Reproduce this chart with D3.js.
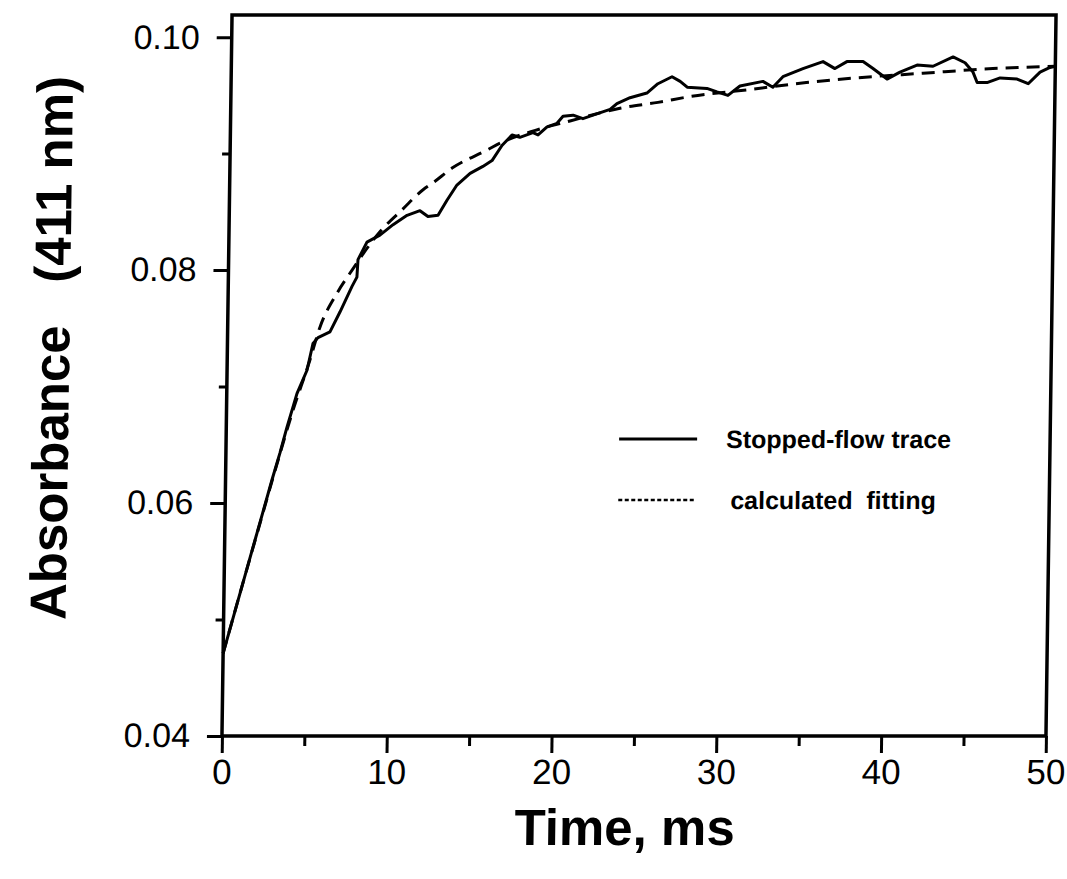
<!DOCTYPE html>
<html>
<head>
<meta charset="utf-8">
<script src="https://cdn.jsdelivr.net/npm/d3@7"></script>
<style>
  body { margin: 0; background: #fff; }
  svg { display: block; }
  .tick text { font-family: "Liberation Sans", Arial, sans-serif; fill: #000; }
</style>
</head>
<body>
<div id="plot"></div>
<script>
// Stopped-flow trace (time in ms, absorbance at 411 nm)
const traceTime = [0, 2.82, 3.28, 3.68, 4.26, 4.85, 5.19, 5.49, 6.21, 6.8, 7.51, 7.8, 7.85, 8.38, 9.16, 9.95,
  10.79, 11.57, 12.06, 12.67, 13.2, 13.79, 14.58, 15.35, 15.9, 16.49, 17.09, 17.57, 18.36, 18.67, 19.21, 19.81,
  20.17, 20.78, 21.38, 21.99, 23.02, 23.43, 24.22, 25.24, 25.9, 26.75, 27.25, 27.68, 28.88, 29.49, 30.16, 30.88,
  32.27, 32.88, 33.48, 34.69, 35.9, 36.63, 37.35, 38.02, 38.33, 38.94, 39.8, 40.58, 41.61, 42.58, 43.79, 44.52,
  45.01, 45.27, 45.87, 46.66, 47.69, 48.37, 49.08, 49.68, 50];
const traceAbs = [0.0471, 0.0620, 0.0643, 0.0665, 0.0694, 0.0714, 0.0737, 0.0742, 0.0747, 0.0764, 0.0786, 0.0794, 0.0809, 0.0824, 0.0830, 0.0839,
  0.0847, 0.0851, 0.0846, 0.0847, 0.0860, 0.0873, 0.0883, 0.0889, 0.0894, 0.0907, 0.0916, 0.0914, 0.0918, 0.0916, 0.0923, 0.0926,
  0.0932, 0.0933, 0.0930, 0.0933, 0.0938, 0.0943, 0.0948, 0.0952, 0.0960, 0.0966, 0.0962, 0.0957, 0.0956, 0.0953, 0.0950, 0.0958,
  0.0962, 0.0957, 0.0966, 0.0973, 0.0979, 0.0973, 0.0979, 0.0979, 0.0979, 0.0973, 0.0964, 0.0970, 0.0976, 0.0975, 0.0983, 0.0978,
  0.0970, 0.0961, 0.0961, 0.0965, 0.0964, 0.0960, 0.0970, 0.0974, 0.0975];

// Calculated fitting curve
const fitTime = [0, 1, 2, 3, 4, 5, 5.6, 6.6, 7.5, 9.16, 10.5, 11.74, 12.34, 13.53, 15.58, 16.37, 18.5, 20.6,
  23.62, 25.92, 27.86, 31.45, 34.9, 37.94, 41.97, 46.21, 50];
const fitAbs = [0.0471, 0.0524, 0.0576, 0.0628, 0.0678, 0.0722, 0.0751, 0.0780, 0.0800, 0.0833, 0.0852, 0.0869, 0.0875, 0.0888, 0.0903, 0.0909, 0.0920, 0.0928,
  0.0939, 0.0944, 0.0949, 0.0955, 0.0961, 0.0965, 0.0969, 0.0973, 0.0975];

const xMajor = [0, 10, 20, 30, 40, 50];
const xMinor = [5, 15, 25, 35, 45];
const yMajor = [0.04, 0.06, 0.08, 0.10];
const yMinor = [0.05, 0.07, 0.09];

const legendLabels = ["Stopped-flow trace", "calculated  fitting"];

const W = 1067, H = 879;
const plotLeft = 227, plotRight = 1051, plotTop = 15, plotBottom = 736;

const svg = d3.select("#plot")
  .append("svg")
  .attr("width", W)
  .attr("height", H);

// the scan is slightly skewed, so lean the whole figure a little
const cx = (plotLeft + plotRight) / 2, cy = (plotTop + plotBottom) / 2;
const g = svg.append("g")
  .attr("transform", `translate(${cx},${cy}) skewX(-0.8) translate(${-cx},${-cy})`);

const x = d3.scaleLinear().domain([0, 50]).range([plotLeft, plotRight]);
const y = d3.scaleLinear().domain([0.04, 0.1019]).range([plotBottom, plotTop]);

// x axis, major and minor ticks
const xAx = g.append("g")
  .attr("transform", `translate(0,${plotBottom})`)
  .call(d3.axisBottom(x).tickValues(xMajor).tickSize(17).tickPadding(6).tickFormat(d3.format("d")));
xAx.selectAll("text").style("font-size", "35px");

g.append("g")
  .attr("transform", `translate(0,${plotBottom})`)
  .call(d3.axisBottom(x).tickValues(xMinor).tickSize(10).tickFormat(""));

// y axis
const yAx = g.append("g")
  .attr("transform", `translate(${plotLeft},0)`)
  .call(d3.axisLeft(y).tickValues(yMajor).tickSize(15).tickPadding(17).tickFormat(d3.format(".2f")));
yAx.selectAll("text").style("font-size", "34px");

g.append("g")
  .attr("transform", `translate(${plotLeft},0)`)
  .call(d3.axisLeft(y).tickValues(yMinor).tickSize(8).tickFormat(""));

g.selectAll(".domain").remove();
g.selectAll(".tick line").attr("stroke", "#000").attr("stroke-width", 3);

// frame
g.append("rect")
  .attr("x", x(0))
  .attr("y", y(0.1019))
  .attr("width", x(50) - x(0))
  .attr("height", y(0.04) - y(0.1019))
  .attr("fill", "none")
  .attr("stroke", "#000")
  .attr("stroke-width", 3.5);

// fitted curve (dashed)
const fitLine = d3.line()
  .x((d, i) => x(fitTime[i]))
  .y(d => y(d))
  .curve(d3.curveMonotoneX);

g.append("path")
  .attr("d", fitLine(fitAbs))
  .attr("fill", "none")
  .attr("stroke", "#000")
  .attr("stroke-width", 3)
  .attr("stroke-dasharray", "13,8");

// stopped-flow trace (solid)
const traceLine = d3.line()
  .x((d, i) => x(traceTime[i]))
  .y(d => y(d));

g.append("path")
  .attr("d", traceLine(traceAbs))
  .attr("fill", "none")
  .attr("stroke", "#000")
  .attr("stroke-width", 3)
  .attr("stroke-linejoin", "round");

// legend
const legend = g.selectAll(".legend")
  .data(legendLabels)
  .enter()
  .append("g")
  .attr("class", "legend")
  .attr("transform", (d, i) => `translate(620, ${439 + i * 61})`);

legend.append("line")
  .attr("x1", 0)
  .attr("x2", 78)
  .attr("stroke", "#000")
  .attr("stroke-width", (d, i) => i === 0 ? 3 : 2.5)
  .attr("stroke-dasharray", (d, i) => i === 0 ? null : "4,2.5");

legend.append("text")
  .attr("x", (d, i) => i === 0 ? 107 : 112)
  .attr("dy", "0.35em")
  .style("font-family", "'Liberation Sans', Arial, sans-serif")
  .style("font-size", "25px")
  .style("font-weight", "bold")
  .style("white-space", "pre")
  .text(d => d);

// axis titles
g.append("text")
  .attr("x", 631)
  .attr("y", 845)
  .attr("text-anchor", "middle")
  .style("font-family", "'Liberation Sans', Arial, sans-serif")
  .style("font-size", "51px")
  .style("font-weight", "bold")
  .text("Time, ms");

g.append("text")
  .attr("transform", `translate(69, 348) rotate(-90)`)
  .attr("text-anchor", "middle")
  .style("font-family", "'Liberation Sans', Arial, sans-serif")
  .style("font-size", "51px")
  .style("font-weight", "bold")
  .style("white-space", "pre")
  .text("Absorbance   (411 nm)");
</script>
</body>
</html>
